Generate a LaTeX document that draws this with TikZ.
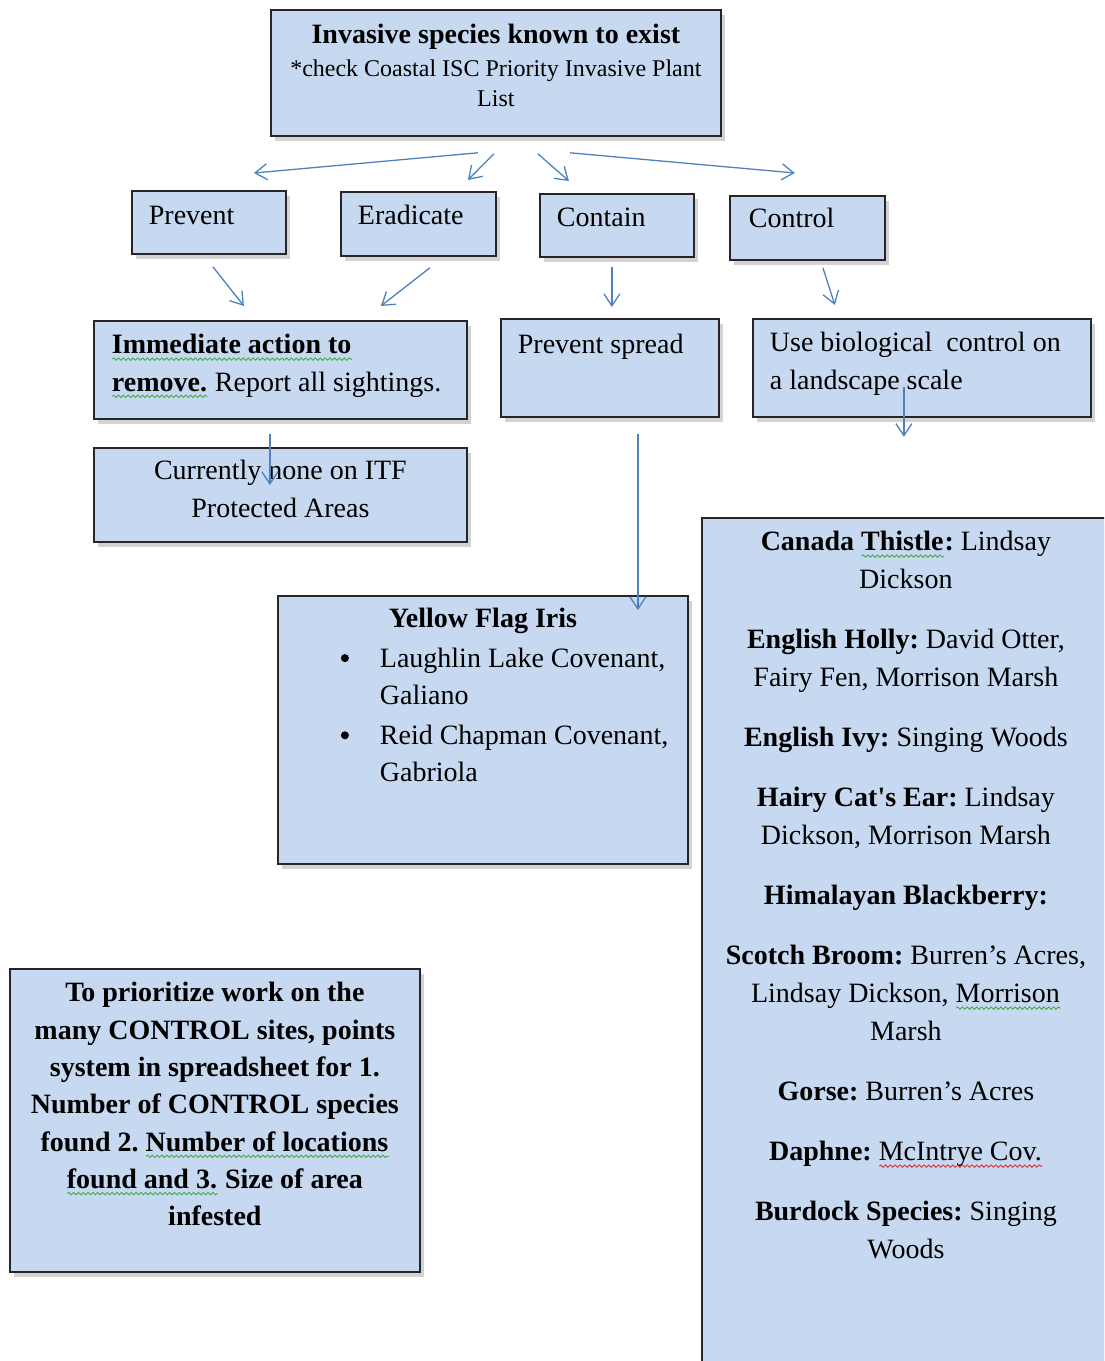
\documentclass[tikz,border=0pt]{standalone}
\usepackage{fontspec}
\setmainfont{Liberation Serif}
\usetikzlibrary{arrows.meta, shadows, calc, decorations.pathmorphing}

\definecolor{boxfill}{RGB}{198,217,240}
\definecolor{boxline}{RGB}{38,38,38}
\definecolor{arrowblue}{RGB}{79,129,189}
\definecolor{squiggreen}{RGB}{70,170,70}
\definecolor{squigred}{RGB}{225,50,50}

% spell-check style wavy underline
\newsavebox\wavebox
\newcommand{\wavy}[2]{\sbox\wavebox{#2}\mbox{\rlap{\usebox\wavebox}%
  \tikz[baseline=0pt]\draw[#1, line width=0.45pt, decorate,
    decoration={snake, amplitude=0.6pt, segment length=2.4pt}] (0pt,-2.6pt) -- (\wd\wavebox,-2.6pt);}}
\newcommand{\dotitem}{\leavevmode\llap{\tikz[baseline=-4.5pt]\fill (0pt,0pt) circle (2pt);\hspace{15.5pt}}}

\begin{document}
\begin{tikzpicture}[x=0.5pt, y=-0.5pt, >={Straight Barb[length=6pt, width=8pt]},
    box/.style={draw=boxline, line width=0.9pt, fill=boxfill, anchor=north west,
      drop shadow={shadow xshift=2pt, shadow yshift=-2.5pt, opacity=0.35},
      inner xsep=8.5pt, inner ysep=0pt, align=flush left,
      font=\fontsize{14}{18.6}\selectfont\frenchspacing},
    flow/.style={->, draw=arrowblue, line width=0.65pt}]
    \useasboundingbox (0,0) rectangle (1104,1361);
    \clip (0,0) rectangle (1104,1361);

    \node[box, align=flush center, inner xsep=2.5pt, text width=220pt, text height=17pt, text depth=46pt] (known) at (270,9)
        {\textbf{Invasive species known to exist}\par\vspace{1.5pt}
         {\fontsize{12}{15}\selectfont *check Coastal ISC Priority Invasive Plant\par List\par}};

    \node[box, text width=60pt, text height=17pt, text depth=14.5pt] (prev) at (131,190) {Prevent};
    \node[box, text width=60.5pt, text height=16.5pt, text depth=15.5pt] (erad) at (340,191) {Eradicate};
    \node[box, text width=60pt, text height=16.5pt, text depth=15pt] (cont) at (539,193) {Contain};
    \node[box, inner xsep=9.5pt, text width=58.5pt, text height=16pt, text depth=16pt] (ctrl) at (729,195) {Control};

    \node[box, inner xsep=9pt, text width=168.5pt, text height=16.5pt, text depth=32.5pt] (act) at (93,320)
        {\textbf{\wavy{squiggreen}{Immediate action to}}\par\textbf{\wavy{squiggreen}{remove.}} Report all sightings.};
    \node[box, text width=92pt, text height=17.5pt, text depth=31.5pt] (spread) at (500,318) {Prevent spread};
    \node[box, text width=152pt, text height=16.5pt, text depth=32.5pt] (bio) at (752,318)
        {Use biological\ \ control on\par a landscape scale};
    \node[box, align=flush center, inner xsep=9pt, text width=168.5pt, text height=16pt, text depth=31pt] (none) at (93,447)
        {Currently none on ITF\par Protected Areas};

    \node[box, inner xsep=5pt, text width=195pt, text height=16pt, text depth=118pt] (iris) at (277,595)
        {{\centering\textbf{Yellow Flag Iris}\par}
         \vspace{1pt}\leftskip=46pt
         \dotitem Laughlin Lake Covenant,\par Galiano\par
         \vspace{1.4pt}
         \dotitem Reid Chapman Covenant,\par Gabriola\par};

    \node[box, align=flush center, inner xsep=5pt, text width=195pt, text height=16.5pt, text depth=135pt,
          font=\fontsize{14}{18.65}\selectfont\frenchspacing\bfseries] (prio) at (9,968)
        {To prioritize work on the\\many CONTROL sites, points\\system in spreadsheet for 1.\\Number of CONTROL species\\
         found 2. \wavy{squiggreen}{Number of locations}\\\wavy{squiggreen}{found and 3.} Size of area\\infested};

    \node[box, align=flush center, inner xsep=5pt, text width=194pt, text height=16.5pt, text depth=420pt,
          font=\fontsize{14}{19}\selectfont\frenchspacing] (sites) at (701,517)
        {\textbf{Canada \wavy{squiggreen}{Thistle}:} Lindsay\\Dickson\\[11pt]
         \textbf{English Holly:} David Otter,\\Fairy Fen, Morrison Marsh\\[11pt]
         \textbf{English Ivy:} Singing Woods\\[11pt]
         \textbf{Hairy Cat\textquotesingle s Ear:} Lindsay\\Dickson, Morrison Marsh\\[11pt]
         \textbf{Himalayan Blackberry:}\\[11pt]
         \textbf{Scotch Broom:} Burren’s Acres,\\Lindsay Dickson, \wavy{squiggreen}{Morrison}\\Marsh\\[11pt]
         \textbf{Gorse:} Burren’s Acres\\[11pt]
         \textbf{Daphne:} \wavy{squigred}{McIntrye Cov.}\\[11pt]
         \textbf{Burdock Species:} Singing\\Woods};

    % arrows
    \draw[flow] ($(known.south)+(-18,16)$) -- ($(prev.north)+(45,-17)$);
    \draw[flow] ($(known.south)+(-2,17)$) -- ($(erad.north)+(49.5,-11)$);
    \draw[flow] ($(known.south)+(42,17)$) -- ($(cont.north)+(-48,-12)$);
    \draw[flow] ($(known.south)+(74,16)$) -- ($(ctrl.north)+(-12.5,-22)$);
    \draw[flow] ($(prev.south)+(4,12)$) -- ($(act.north)+(-36.5,-14)$);
    \draw[flow] ($(erad.south)+(11.5,11)$) -- ($(act.north)+(100.5,-14)$);
    \draw[flow] ($(cont.south)+(-5,9)$) -- ($(spread.north)+(2,-11)$);
    \draw[flow] ($(ctrl.south)+(15.5,7)$) -- ($(bio.north)+(-87,-13)$);
    \draw[flow] ($(act.south)+(-10.5,14)$) -- ($(none.north)+(-10.5,38)$);
    \draw[flow] ($(spread.south)+(28,16)$) -- ($(iris.north)+(155,15)$);
    \draw[flow] ($(bio.south)+(-18,-31)$) -- ($(bio.south)+(-18,19)$);
\end{tikzpicture}
\end{document}
